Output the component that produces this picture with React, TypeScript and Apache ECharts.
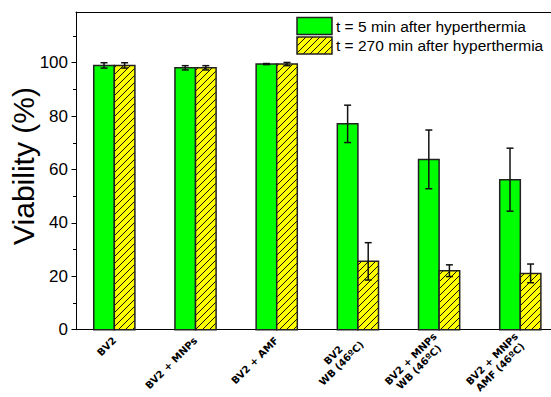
import { useEffect, useRef } from "react";
import * as echarts from "echarts";

// ---- data ----
const categories = [
  "BV2",
  "BV2 + MNPs",
  "BV2 + AMF",
  "BV2\nWB (46ºC)",
  "BV2 + MNPs\nWB (46ºC)",
  "BV2 + MNPs\nAMF (46ºC)",
];
const seriesNames = ["t = 5 min after hyperthermia", "t = 270 min after hyperthermia"];
const viability5 = [99.0, 98.1, 99.5, 77.1, 63.8, 56.2];
const error5 = [1.0, 0.8, 0.2, 7.0, 11.0, 11.8];
const viability270 = [99.0, 98.1, 99.5, 25.6, 22.1, 21.1];
const error270 = [1.0, 0.8, 0.6, 7.0, 2.2, 3.5];
const yTicks = [0, 20, 40, 60, 80, 100];
const yMinorTicks = [10, 30, 50, 70, 90, 110];
const yTitle = "Viability (%)";

// ---- style ----
const GREEN = "#00ff00";
const YELLOW = "#ffff00";
const EDGE = "#222222";
const BAR_W = 0.2535;
const X_MIN = -0.472;
const X_MAX = 5.378;
const FONT = "'Liberation Sans', Arial, sans-serif";
const LABEL_FAMILY = "'DejaVu Sans', Verdana, sans-serif";
const HATCH = 7;

function hatchSegments(x0: number, y0: number, w: number, h: number, step: number) {
  const segs: { x1: number; y1: number; x2: number; y2: number }[] = [];
  const x1 = x0 + w;
  const y1 = y0 + h;
  let c = Math.ceil((x0 + y0) / step) * step;
  for (; c < x1 + y1; c += step) {
    const xs = Math.max(x0, c - y1);
    const xe = Math.min(x1, c - y0);
    if (xe > xs) segs.push({ x1: xs, y1: c - xs, x2: xe, y2: c - xe });
  }
  return segs;
}

const barItem = (side: number, hatched: boolean, fill: string) => (_p: any, api: any) => {
  const i = api.value(0);
  const v = api.value(1);
  const top = api.coord([i, v]);
  const base = api.coord([i, 0]);
  const bw = api.size([BAR_W, 0])[0];
  const x0 = side < 0 ? top[0] - bw : top[0];
  const y0 = top[1];
  const h = base[1] - top[1];
  const children: any[] = [
    { type: "rect", shape: { x: x0, y: y0, width: bw, height: h }, style: { fill, stroke: "none" } },
  ];
  if (hatched) {
    hatchSegments(x0, y0, bw, h, HATCH).forEach((s) =>
      children.push({ type: "line", shape: s, style: { stroke: "#111", lineWidth: 1 } })
    );
  }
  children.push({
    type: "rect",
    shape: { x: x0, y: y0, width: bw, height: h },
    style: { fill: "none", stroke: EDGE, lineWidth: 1.5 },
  });
  return { type: "group", children };
};

const errItem = (side: number) => (_p: any, api: any) => {
  const i = api.value(0);
  const v = api.value(1);
  const e = api.value(2);
  const bw = api.size([BAR_W, 0])[0];
  const hi = api.coord([i, v + e]);
  const lo = api.coord([i, v - e]);
  const cx = hi[0] + (side * bw) / 2;
  const cap = 3.5;
  const st = { stroke: "#111", lineWidth: 1.5 };
  return {
    type: "group",
    children: [
      { type: "line", shape: { x1: cx, y1: hi[1], x2: cx, y2: lo[1] }, style: st },
      { type: "line", shape: { x1: cx - cap, y1: hi[1], x2: cx + cap, y2: hi[1] }, style: st },
      { type: "line", shape: { x1: cx - cap, y1: lo[1], x2: cx + cap, y2: lo[1] }, style: st },
    ],
  };
};

function staticGraphics() {
  const x = 297;
  const w = 35;
  const h = 17;
  const y1 = 17.5;
  const y2 = 37;
  const els: any[] = [
    { type: "rect", shape: { x, y: y1, width: w, height: h }, style: { fill: GREEN, stroke: EDGE, lineWidth: 1.5 } },
    { type: "rect", shape: { x, y: y2, width: w, height: h }, style: { fill: YELLOW, stroke: "none" } },
  ];
  hatchSegments(x, y2, w, h, HATCH).forEach((s) =>
    els.push({ type: "line", shape: s, style: { stroke: "#111", lineWidth: 1 } })
  );
  els.push({ type: "rect", shape: { x, y: y2, width: w, height: h }, style: { fill: "none", stroke: EDGE, lineWidth: 1.5 } });
  els.push({
    type: "text",
    x: 336,
    y: y1 + h / 2,
    style: { text: seriesNames[0], font: `15.5px ${FONT}`, fill: "#000", align: "left", verticalAlign: "middle" },
  });
  els.push({
    type: "text",
    x: 336,
    y: y2 + h / 2,
    style: { text: seriesNames[1], font: `15.5px ${FONT}`, fill: "#000", align: "left", verticalAlign: "middle" },
  });
  els.push({
    type: "text",
    x: 38,
    y: 166,
    rotation: Math.PI / 2,
    style: { text: yTitle, font: `30px ${FONT}`, fill: "#000", align: "center", verticalAlign: "bottom" },
  });
  return els;
}

export default function App() {
  const ref = useRef<HTMLDivElement>(null);
  useEffect(() => {
    document.body.style.margin = "0";
    if (!ref.current) return;
    const chart = echarts.init(ref.current, undefined, { renderer: "svg" });
    const idx = categories.map((_, i) => i);
    chart.setOption({
      animation: false,
      backgroundColor: "#fff",
      grid: { left: 76, top: 12, right: 0, bottom: 62, show: false },
      xAxis: [
        {
          type: "value",
          position: "bottom",
          min: X_MIN,
          max: X_MAX,
          axisLine: { show: true, onZero: false, lineStyle: { color: "#000", width: 1 } },
          axisTick: { show: false },
          splitLine: { show: false },
          axisLabel: {
            customValues: idx,
            rotate: 45,
            margin: 9,
            color: "#000",
            formatter: (v: number) =>
              (categories[Math.round(v)] || "")
                .split("\n")
                .map((l) => `{c|${l}}`)
                .join("\n"),
            rich: {
              c: {
                align: "center",
                fontSize: 10,
                fontWeight: "bold",
                fontFamily: LABEL_FAMILY,
                lineHeight: 11.5,
                color: "#000",
              },
            },
          },
        },
        {
          type: "value",
          position: "top",
          min: X_MIN,
          max: X_MAX,
          axisLine: { show: true, onZero: false, lineStyle: { color: "#000", width: 1 } },
          axisTick: { show: false },
          axisLabel: { show: false },
          splitLine: { show: false },
        },
      ],
      yAxis: [
        {
          type: "value",
          min: 0,
          max: 119,
          axisLine: { show: true, onZero: false, lineStyle: { color: "#000", width: 1 } },
          axisTick: { show: true, length: 4.5, customValues: yTicks, lineStyle: { color: "#000" } },
          axisLabel: { customValues: yTicks, fontSize: 17, fontFamily: FONT, color: "#000", margin: 8 },
          splitLine: { show: false },
        },
        {
          type: "value",
          min: 0,
          max: 119,
          position: "left",
          axisLine: { show: false, onZero: false },
          axisTick: { show: true, length: 3, customValues: yMinorTicks, lineStyle: { color: "#000" } },
          axisLabel: { show: false },
          splitLine: { show: false },
        },
      ],
      graphic: staticGraphics(),
      series: [
        {
          type: "custom",
          name: seriesNames[0],
          renderItem: barItem(-1, false, GREEN),
          data: viability5.map((v, i) => [idx[i], v]),
          encode: { x: 0, y: 1 },
          z: 2,
        },
        {
          type: "custom",
          name: seriesNames[1],
          renderItem: barItem(1, true, YELLOW),
          data: viability270.map((v, i) => [idx[i], v]),
          encode: { x: 0, y: 1 },
          z: 2,
        },
        {
          type: "custom",
          renderItem: errItem(-1),
          data: viability5.map((v, i) => [idx[i], v, error5[i]]),
          encode: { x: 0, y: 1 },
          z: 3,
        },
        {
          type: "custom",
          renderItem: errItem(1),
          data: viability270.map((v, i) => [idx[i], v, error270[i]]),
          encode: { x: 0, y: 1 },
          z: 3,
        },
      ],
    });
    return () => chart.dispose();
  }, []);
  return <div ref={ref} style={{ width: 551, height: 397 }} />;
}
